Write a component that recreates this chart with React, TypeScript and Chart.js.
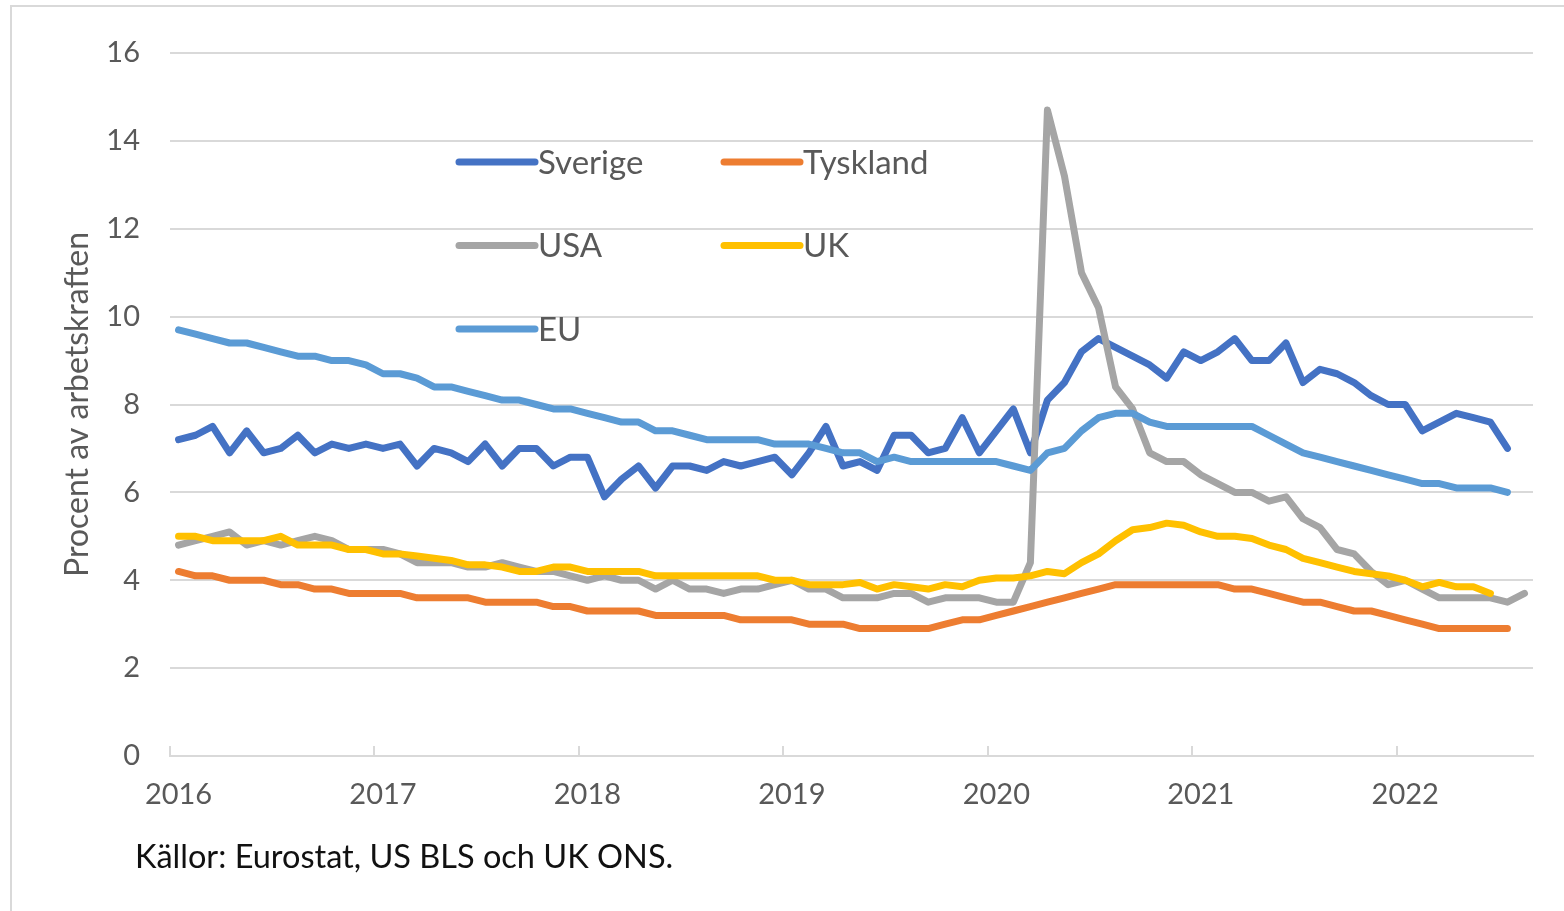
import React, { useEffect, useRef } from "react";
import { Chart, registerables } from "chart.js";

Chart.register(...registerables);

// ---------- data ----------
const yearLabels = ["2016", "2017", "2018", "2019", "2020", "2021", "2022"];
const monthsInLastYear = 8; // jan–aug 2022

const categories: string[] = [];
yearLabels.forEach((y, yi) => {
  const n = yi === yearLabels.length - 1 ? monthsInLastYear : 12;
  for (let m = 1; m <= n; m++) categories.push(`${y}-${String(m).padStart(2, "0")}`);
});

const sverige = [
  7.2, 7.3, 7.5, 6.9, 7.4, 6.9, 7.0, 7.3, 6.9, 7.1, 7.0, 7.1,
  7.0, 7.1, 6.6, 7.0, 6.9, 6.7, 7.1, 6.6, 7.0, 7.0, 6.6, 6.8,
  6.8, 5.9, 6.3, 6.6, 6.1, 6.6, 6.6, 6.5, 6.7, 6.6, 6.7, 6.8,
  6.4, 6.9, 7.5, 6.6, 6.7, 6.5, 7.3, 7.3, 6.9, 7.0, 7.7, 6.9,
  7.4, 7.9, 6.9, 8.1, 8.5, 9.2, 9.5, 9.3, 9.1, 8.9, 8.6, 9.2,
  9.0, 9.2, 9.5, 9.0, 9.0, 9.4, 8.5, 8.8, 8.7, 8.5, 8.2, 8.0,
  8.0, 7.4, 7.6, 7.8, 7.7, 7.6, 7.0,
];

const tyskland = [
  4.2, 4.1, 4.1, 4.0, 4.0, 4.0, 3.9, 3.9, 3.8, 3.8, 3.7, 3.7,
  3.7, 3.7, 3.6, 3.6, 3.6, 3.6, 3.5, 3.5, 3.5, 3.5, 3.4, 3.4,
  3.3, 3.3, 3.3, 3.3, 3.2, 3.2, 3.2, 3.2, 3.2, 3.1, 3.1, 3.1,
  3.1, 3.0, 3.0, 3.0, 2.9, 2.9, 2.9, 2.9, 2.9, 3.0, 3.1, 3.1,
  3.2, 3.3, 3.4, 3.5, 3.6, 3.7, 3.8, 3.9, 3.9, 3.9, 3.9, 3.9,
  3.9, 3.9, 3.8, 3.8, 3.7, 3.6, 3.5, 3.5, 3.4, 3.3, 3.3, 3.2,
  3.1, 3.0, 2.9, 2.9, 2.9, 2.9, 2.9,
];

const usa = [
  4.8, 4.9, 5.0, 5.1, 4.8, 4.9, 4.8, 4.9, 5.0, 4.9, 4.7, 4.7,
  4.7, 4.6, 4.4, 4.4, 4.4, 4.3, 4.3, 4.4, 4.3, 4.2, 4.2, 4.1,
  4.0, 4.1, 4.0, 4.0, 3.8, 4.0, 3.8, 3.8, 3.7, 3.8, 3.8, 3.9,
  4.0, 3.8, 3.8, 3.6, 3.6, 3.6, 3.7, 3.7, 3.5, 3.6, 3.6, 3.6,
  3.5, 3.5, 4.4, 14.7, 13.2, 11.0, 10.2, 8.4, 7.9, 6.9, 6.7, 6.7,
  6.4, 6.2, 6.0, 6.0, 5.8, 5.9, 5.4, 5.2, 4.7, 4.6, 4.2, 3.9,
  4.0, 3.8, 3.6, 3.6, 3.6, 3.6, 3.5, 3.7,
];

const uk = [
  5.0, 5.0, 4.9, 4.9, 4.9, 4.9, 5.0, 4.8, 4.8, 4.8, 4.7, 4.7,
  4.6, 4.6, 4.55, 4.5, 4.45, 4.35, 4.35, 4.3, 4.2, 4.2, 4.3, 4.3,
  4.2, 4.2, 4.2, 4.2, 4.1, 4.1, 4.1, 4.1, 4.1, 4.1, 4.1, 4.0,
  4.0, 3.9, 3.9, 3.9, 3.95, 3.8, 3.9, 3.85, 3.8, 3.9, 3.85, 4.0,
  4.05, 4.05, 4.1, 4.2, 4.15, 4.4, 4.6, 4.9, 5.15, 5.2, 5.3, 5.25,
  5.1, 5.0, 5.0, 4.95, 4.8, 4.7, 4.5, 4.4, 4.3, 4.2, 4.15, 4.1,
  4.0, 3.85, 3.95, 3.85, 3.85, 3.7,
];

const eu = [
  9.7, 9.6, 9.5, 9.4, 9.4, 9.3, 9.2, 9.1, 9.1, 9.0, 9.0, 8.9,
  8.7, 8.7, 8.6, 8.4, 8.4, 8.3, 8.2, 8.1, 8.1, 8.0, 7.9, 7.9,
  7.8, 7.7, 7.6, 7.6, 7.4, 7.4, 7.3, 7.2, 7.2, 7.2, 7.2, 7.1,
  7.1, 7.1, 7.0, 6.9, 6.9, 6.7, 6.8, 6.7, 6.7, 6.7, 6.7, 6.7,
  6.7, 6.6, 6.5, 6.9, 7.0, 7.4, 7.7, 7.8, 7.8, 7.6, 7.5, 7.5,
  7.5, 7.5, 7.5, 7.5, 7.3, 7.1, 6.9, 6.8, 6.7, 6.6, 6.5, 6.4,
  6.3, 6.2, 6.2, 6.1, 6.1, 6.1, 6.0,
];

const seriesNames = ["Sverige", "Tyskland", "USA", "UK", "EU"];
const seriesValues = [sverige, tyskland, usa, uk, eu];
const seriesColors = ["#4472C4", "#ED7D31", "#A5A5A5", "#FFC000", "#5B9BD5"];

const yMin = 0;
const yMax = 16;
const yStep = 2;
const yTitle = "Procent av arbetskraften";
const sourceNote = "Källor: Eurostat, US BLS och UK ONS.";

// ---------- style ----------
const FONT = "Lato, 'Noto Sans', sans-serif";
const W = 1564;
const H = 911;
const GRID = "#D9D9D9";
const TEXT = "#595959";

const yearTickPlugin = {
  id: "yearTicks",
  afterDraw(chart: any) {
    const xs = chart.scales.x;
    const area = chart.chartArea;
    const ctx = chart.ctx;
    ctx.save();
    ctx.strokeStyle = GRID;
    ctx.lineWidth = 2;
    for (let k = 0; k < yearLabels.length; k++) {
      const x = Math.round(xs.getPixelForValue(k * 12 - 0.5));
      ctx.beginPath();
      ctx.moveTo(x, area.bottom);
      ctx.lineTo(x, area.bottom - 10);
      ctx.stroke();
    }
    ctx.restore();
  },
};

const gridLegendPlugin = {
  id: "gridLegend",
  afterDraw(chart: any) {
    const ctx = chart.ctx;
    const area = chart.chartArea;
    const left = area.left + 289;
    const top = area.top + 109;
    const colGap = 265;
    const rowGap = 83.5;
    const swatch = 76;
    ctx.save();
    ctx.font = `33px ${FONT}`;
    ctx.textBaseline = "middle";
    ctx.textAlign = "left";
    chart.data.datasets.forEach((ds: any, i: number) => {
      const col = i % 2;
      const row = Math.floor(i / 2);
      const x0 = left + col * colGap;
      const y = top + row * rowGap;
      ctx.strokeStyle = ds.borderColor;
      ctx.lineWidth = 7;
      ctx.lineCap = "round";
      ctx.beginPath();
      ctx.moveTo(x0, y);
      ctx.lineTo(x0 + swatch, y);
      ctx.stroke();
      ctx.fillStyle = TEXT;
      ctx.fillText(ds.label, x0 + swatch + 3, y + 1);
    });
    ctx.restore();
  },
};

export default function App() {
  const canvasRef = useRef<HTMLCanvasElement | null>(null);

  useEffect(() => {
    if (!canvasRef.current) return;
    const datasets = seriesNames.map((name, i) => ({
      label: name,
      data: seriesValues[i],
      borderColor: seriesColors[i],
      backgroundColor: seriesColors[i],
      borderWidth: 7,
      borderJoinStyle: "round" as const,
      borderCapStyle: "round" as const,
      pointRadius: 0,
      pointHoverRadius: 0,
      tension: 0,
      fill: false,
      order: seriesNames.length - i,
    }));

    const chart = new Chart(canvasRef.current, {
      type: "line",
      data: { labels: categories, datasets },
      options: {
        animation: false,
        responsive: false,
        devicePixelRatio: 1,
        events: [],
        layout: { padding: { left: 0, top: 53, right: 31, bottom: 0 } },
        plugins: {
          legend: { display: false },
          tooltip: { enabled: false },
          title: { display: false },
        },
        scales: {
          x: {
            type: "category",
            offset: true,
            afterFit: (scale: any) => {
              scale.height = 155;
            },
            grid: {
              display: true,
              offset: true,
              drawOnChartArea: false,
              drawTicks: false,
              color: "rgba(0,0,0,0)",
            },
            border: { display: true, color: GRID, width: 2 },
            ticks: {
              autoSkip: false,
              maxRotation: 0,
              minRotation: 0,
              padding: 21,
              color: TEXT,
              font: { family: FONT, size: 29 },
              callback: function (this: any, value: any) {
                const lbl = this.getLabelForValue(value) as string;
                return lbl.endsWith("-01") ? lbl.slice(0, 4) : "";
              },
            },
          },
          y: {
            min: yMin,
            max: yMax,
            afterFit: (scale: any) => {
              scale.width = 170;
            },
            grid: { color: GRID, lineWidth: 2, drawTicks: false },
            border: { display: false },
            ticks: {
              stepSize: yStep,
              padding: 30,
              color: TEXT,
              font: { family: FONT, size: 29 },
            },
            title: {
              display: true,
              text: yTitle,
              color: TEXT,
              font: { family: FONT, size: 32, weight: "normal" },
              padding: { top: 58, bottom: 0 },
            },
          },
        },
      },
      plugins: [yearTickPlugin, gridLegendPlugin],
    });
    return () => chart.destroy();
  }, []);

  return (
    <div
      style={{
        position: "fixed",
        left: 0,
        top: 0,
        width: W,
        height: H,
        overflow: "hidden",
        background: "#ffffff",
      }}
    >
      <div
        style={{
          position: "absolute",
          left: 10,
          top: 5,
          width: 1700,
          height: 1100,
          border: `2px solid ${GRID}`,
          boxSizing: "border-box",
        }}
      />
      <canvas
        ref={canvasRef}
        width={W}
        height={H}
        style={{ position: "absolute", left: 0, top: 0, width: W, height: H }}
      />
      <div
        style={{
          position: "absolute",
          left: 135,
          top: 840,
          fontFamily: FONT,
          fontSize: 32.5,
          lineHeight: 1,
          color: "#111111",
          whiteSpace: "nowrap",
        }}
      >
        {sourceNote}
      </div>
    </div>
  );
}
